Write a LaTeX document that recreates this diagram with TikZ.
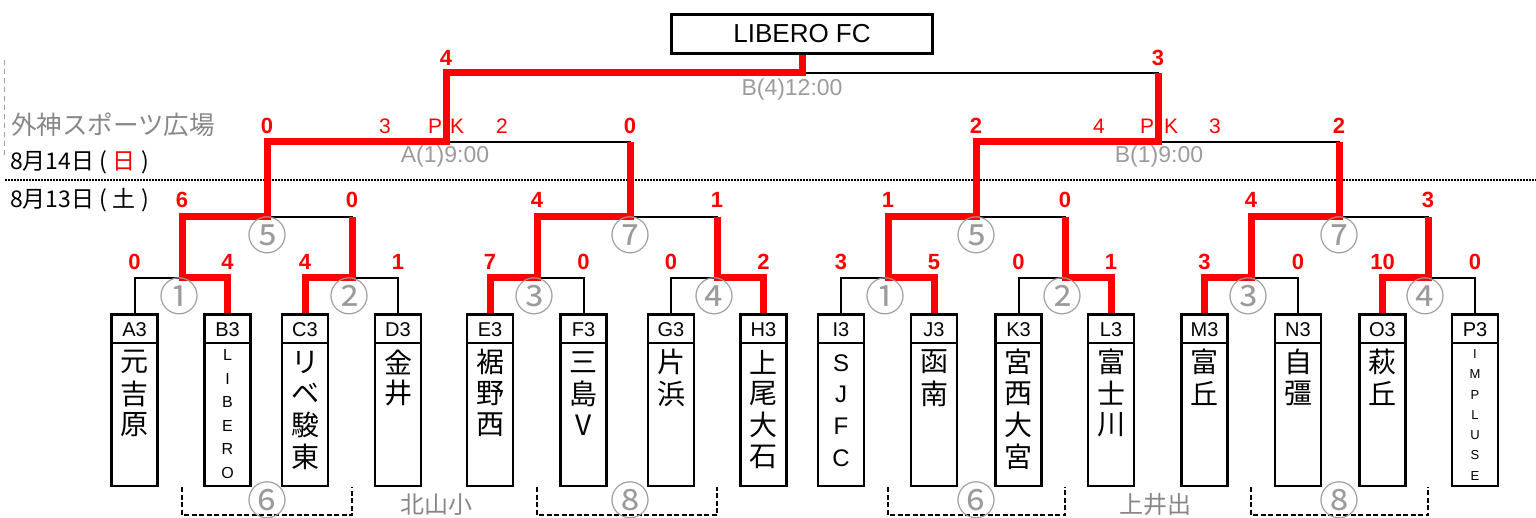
\documentclass[tikz,border=0pt]{standalone}
\usepackage{fontspec}
\setmainfont{Liberation Sans}
\newfontfamily\jp{Noto Sans CJK JP}
\usetikzlibrary{positioning}

\definecolor{winred}{RGB}{255,0,0}
\definecolor{note}{RGB}{135,135,135}
\definecolor{pale}{RGB}{155,155,155}

% one team: name, x, code, letters, first y, step, letter style
\newcommand\team[7]{%
  \node[tbox] (#1) at (#2,313.5) {};
  \draw[boxline] ([yshift=-29.5pt]#1.north west) -- ([yshift=-29.5pt]#1.north east);
  \node[tcode] (#1h) at ([yshift=-16pt]#1.north) {#3};
  \foreach \ch [count=\n from 0] in {#4}
    \node[#7] (#1\n) at (#2,{#5+#6*\n}) {\ch};
}
\newcommand\hw[1]{\makebox[0.8em]{#1}}

\begin{document}
\begin{tikzpicture}[x=1pt,y=-1pt,
    bline/.style={line width=2pt},
    wline/.style={line width=7pt,winred,line join=miter},
    boxline/.style={line width=2.8pt},
    tbox/.style={draw,line width=2.8pt,minimum width=46pt,minimum height=171pt,anchor=north,inner sep=0pt},
    tcode/.style={inner sep=0pt,font=\fontsize{20}{20}\selectfont},
    kchar/.style={inner sep=0pt,font=\jp\fontsize{28}{28}\selectfont},
    lchar/.style={inner sep=0pt,font=\fontsize{24}{24}\selectfont},
    schar/.style={inner sep=0pt,font=\fontsize{16}{16}\selectfont},
    xchar/.style={inner sep=0pt,font=\fontsize{13}{13}\selectfont},
    score/.style={inner sep=0pt,text=winred,font=\bfseries\fontsize{22}{22}\selectfont},
    pk/.style={inner sep=0pt,text=winred,font=\fontsize{21}{21}\selectfont},
    circ/.style={inner sep=0pt,text=pale,font=\jp\fontsize{40}{40}\selectfont},
    time/.style={inner sep=0pt,text=pale,font=\fontsize{23}{23}\selectfont},
    place/.style={inner sep=0pt,text=note,font=\jp\fontsize{24}{24}\selectfont},
    date/.style={inner sep=0pt,anchor=west,font=\jp\fontsize{23}{23}\selectfont},
    champ/.style={draw,line width=2.7pt,minimum width=261pt,minimum height=39.5pt,inner sep=0pt,font=\fontsize{26}{26}\selectfont},
    brk/.style={line width=1.5pt,dash pattern=on 5pt off 2.5pt}]

\useasboundingbox (0,0) rectangle (1536,518);

% levels
\coordinate (s1) at (0,262);
\coordinate (s2) at (0,200);
\coordinate (s3) at (0,126);
\coordinate (s4) at (0,58);
\coordinate (c1) at (0,296);
\coordinate (c2) at (0,235);
\coordinate (c3) at (0,500);
\coordinate (bt) at (0,487);
\coordinate (bb) at (0,515);

% junctions
\coordinate (m1) at (182,278);
\coordinate (m2) at (352,278);
\coordinate (m3) at (537,278);
\coordinate (m4) at (717,278);
\coordinate (m5) at (267,217);
\coordinate (m7) at (630,217);
\coordinate (mA) at (446,142);
\coordinate (n1) at (888,278);
\coordinate (n2) at (1065,278);
\coordinate (n3) at (1251,278);
\coordinate (n4) at (1428,278);
\coordinate (n5) at (976,217);
\coordinate (n7) at (1339,217);
\coordinate (mB) at (1158,142);
\coordinate (mF) at (802,73);

% day line and side notes
\draw[line width=1.5pt,dash pattern=on 1.5pt off 1.5pt] (5,180) -- (1536,180);
\draw[pale,line width=1pt,dash pattern=on 5pt off 4pt] (4,60) -- (4,158);
\node[place,anchor=west,font=\jp\fontsize{25.5}{25.5}\selectfont] (venue) at (11,125) {外神スポーツ広場};
\node[date] (day2) at (10,162) {8月14日\hw{(}\textcolor{winred}{日}\hw{)}};
\node[date] (day1) at (10,200) {8月13日\hw{(}土\hw{)}};

% teams
\team{tA}{134.5}{A3}{元,吉,原}{362}{31.5}{kchar}
\team{tB}{227.5}{B3}{L,I,B,E,R,O}{355}{23.6}{schar}
\team{tC}{305}{C3}{リ,ベ,駿,東}{362}{31.5}{kchar}
\team{tD}{398}{D3}{金,井}{362}{31.5}{kchar}
\team{tE}{490}{E3}{裾,野,西}{362}{31.5}{kchar}
\team{tF}{583.5}{F3}{三,島,V}{362}{31.5}{kchar}
\team{tG}{671}{G3}{片,浜}{362}{31.5}{kchar}
\team{tH}{763.5}{H3}{上,尾,大,石}{362}{31.5}{kchar}
\team{tI}{841}{I3}{S,J,F,C}{363}{31.7}{lchar}
\team{tJ}{934}{J3}{函,南}{362}{31.5}{kchar}
\team{tK}{1018.5}{K3}{宮,西,大,宮}{362}{31.5}{kchar}
\team{tL}{1111}{L3}{富,士,川}{362}{31.5}{kchar}
\team{tM}{1204.5}{M3}{富,丘}{362}{31.5}{kchar}
\team{tN}{1298}{N3}{自,彊}{362}{31.5}{kchar}
\team{tO}{1382.5}{O3}{萩,丘}{362}{31.5}{kchar}
\team{tP}{1475}{P3}{I,M,P,L,U,S,E}{354}{20.3}{xchar}

\node[champ] (champ) at (802,34) {LIBERO FC};

% bracket lines
\draw[bline] (tA.north) |- (m1) -| (tB.north);
\draw[bline] (tC.north) |- (m2) -| (tD.north);
\draw[bline] (tE.north) |- (m3) -| (tF.north);
\draw[bline] (tG.north) |- (m4) -| (tH.north);
\draw[bline] (tI.north) |- (n1) -| (tJ.north);
\draw[bline] (tK.north) |- (n2) -| (tL.north);
\draw[bline] (tM.north) |- (n3) -| (tN.north);
\draw[bline] (tO.north) |- (n4) -| (tP.north);
\draw[bline] (m1) |- (m5) -| (m2);
\draw[bline] (m3) |- (m7) -| (m4);
\draw[bline] (n1) |- (n5) -| (n2);
\draw[bline] (n3) |- (n7) -| (n4);
\draw[bline] (m5) |- (mA) -| (m7);
\draw[bline] (n5) |- (mB) -| (n7);
\draw[bline] (mA) |- (mF) -| (mB);

% winners
\draw[wline] (tB.north) |- (m1) |- (m5) |- (mA) |- (mF) -- (champ.south);
\draw[wline] (tC.north) |- (m2) -- (m2 |- m5);
\draw[wline] (tE.north) |- (m3) |- (m7) -- (m7 |- mA);
\draw[wline] (tH.north) |- (m4) -- (m4 |- m7);
\draw[wline] (tJ.north) |- (n1) |- (n5) |- (mB) -- (mB |- mF);
\draw[wline] (tL.north) |- (n2) -- (n2 |- n5);
\draw[wline] (tM.north) |- (n3) |- (n7) -- (n7 |- mB);
\draw[wline] (tO.north) |- (n4) -- (n4 |- n7);

% scores
\node[score] (sA) at (tA |- s1) {0};
\node[score] (sB) at (tB |- s1) {4};
\node[score] (sC) at (tC |- s1) {4};
\node[score] (sD) at (tD |- s1) {1};
\node[score] (sE) at (tE |- s1) {7};
\node[score] (sF) at (tF |- s1) {0};
\node[score] (sG) at (tG |- s1) {0};
\node[score] (sH) at (tH |- s1) {2};
\node[score] (sI) at (tI |- s1) {3};
\node[score] (sJ) at (tJ |- s1) {5};
\node[score] (sK) at (tK |- s1) {0};
\node[score] (sL) at (tL |- s1) {1};
\node[score] (sM) at (tM |- s1) {3};
\node[score] (sN) at (tN |- s1) {0};
\node[score] (sO) at (tO |- s1) {10};
\node[score] (sP) at (tP |- s1) {0};
\node[score] (sm1) at (m1 |- s2) {6};
\node[score] (sm2) at (m2 |- s2) {0};
\node[score] (sm3) at (m3 |- s2) {4};
\node[score] (sm4) at (m4 |- s2) {1};
\node[score] (sn1) at (n1 |- s2) {1};
\node[score] (sn2) at (n2 |- s2) {0};
\node[score] (sn3) at (n3 |- s2) {4};
\node[score] (sn4) at (n4 |- s2) {3};
\node[score] (sm5) at (m5 |- s3) {0};
\node[score] (sm7) at (m7 |- s3) {0};
\node[score] (sn5) at (n5 |- s3) {2};
\node[score] (sn7) at (n7 |- s3) {2};
\node[score] (smA) at (mA |- s4) {4};
\node[score] (smB) at (mB |- s4) {3};

% penalty kicks
\node[pk] (pkA1) at (385,126) {3};
\node[pk] (pkAP) at (435,126) {P};
\node[pk] (pkAK) at (457,126) {K};
\node[pk] (pkA2) at (502,126) {2};
\node[pk] (pkB1) at (1099,126) {4};
\node[pk] (pkBP) at (1147,126) {P};
\node[pk] (pkBK) at (1171,126) {K};
\node[pk] (pkB2) at (1215,126) {3};

% kick-off times
\node[time] (tmA) at (445,157) {A(1)9:00};
\node[time] (tmB) at (1159,157) {B(1)9:00};
\node[time] (tmF) at (792,90) {B(4)12:00};

% match numbers
\node[circ] (g1) at ([xshift=-3pt]m1 |- c1) {①};
\node[circ] (g2) at ([xshift=-3pt]m2 |- c1) {②};
\node[circ] (g3) at ([xshift=-3pt]m3 |- c1) {③};
\node[circ] (g4) at ([xshift=-3pt]m4 |- c1) {④};
\node[circ] (g5) at (m5 |- c2) {⑤};
\node[circ] (g7) at (m7 |- c2) {⑦};
\node[circ] (h1) at ([xshift=-3pt]n1 |- c1) {①};
\node[circ] (h2) at ([xshift=-3pt]n2 |- c1) {②};
\node[circ] (h3) at ([xshift=-3pt]n3 |- c1) {③};
\node[circ] (h4) at ([xshift=-3pt]n4 |- c1) {④};
\node[circ] (h5) at (n5 |- c2) {⑤};
\node[circ] (h7) at (n7 |- c2) {⑦};

% lower games
\draw[brk] (m1 |- bt) -- (m1 |- bb) -| (m2 |- bt);
\draw[brk] (m3 |- bt) -- (m3 |- bb) -| (m4 |- bt);
\draw[brk] (n1 |- bt) -- (n1 |- bb) -| (n2 |- bt);
\draw[brk] (n3 |- bt) -- (n3 |- bb) -| (n4 |- bt);
\node[circ] (g6) at (m5 |- c3) {⑥};
\node[circ] (g8) at (m7 |- c3) {⑧};
\node[circ] (h6) at (n5 |- c3) {⑥};
\node[circ] (h8) at (n7 |- c3) {⑧};
\node[place] (fieldA) at (436,505) {北山小};
\node[place] (fieldB) at (1155,505) {上井出};
\end{tikzpicture}
\end{document}
